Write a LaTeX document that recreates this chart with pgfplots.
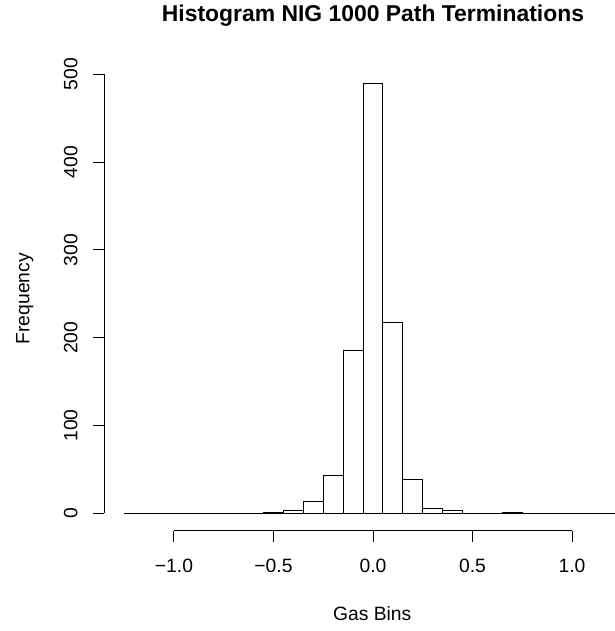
\documentclass[border=0pt]{standalone}
\usepackage{fontspec}
\setmainfont{Liberation Sans}
\usepackage{pgfplots}
\pgfplotsset{compat=1.18}
\begin{document}
\fontsize{19.3}{23}\selectfont
\begin{tikzpicture}[x=1pt,y=1pt]
\useasboundingbox (-104.3,-100.5) rectangle (509.7,530.5);
\begin{axis}[
  scale only axis, width=537.3pt, height=463.7pt,
  xmin=-1.35, xmax=1.35, ymin=-19.56, ymax=508.56,
  clip=false,
  axis lines=left, axis line style={draw=none},
  xtick={-1,-0.5,0,0.5,1},
  xticklabels={−1.0,−0.5,0.0,0.5,1.0},
  ytick={0,100,200,300,400,500},
  yticklabels={0,100,200,300,400,500},
  tick align=outside, major tick length=11.5pt,
  tick style={black, line width=0.9pt},
  xticklabel shift=30.7pt, yticklabel shift=15.5pt,
  xticklabel style={anchor=base, inner sep=0pt},
  yticklabel style={rotate=90, anchor=base, inner sep=0pt},
  title={Histogram NIG 1000 Path Terminations},
  title style={at={(axis description cs:0.5,1.0858)}, anchor=base,
    font=\bfseries\fontsize{22.9}{27}\selectfont},
  xlabel={Gas Bins},
  xlabel style={at={(axis description cs:0.4986,-0.1945)}, anchor=base},
  ylabel={Frequency},
  ylabel style={at={(axis description cs:-0.1396,0.5)}, anchor=base},
]
\addplot[ybar interval, fill=white, draw=black, line width=1pt] coordinates {
(-1.25,0) (-1.15,0) (-1.05,0) (-0.95,0) (-0.85,0) (-0.75,0) (-0.65,0)
(-0.55,1) (-0.45,3) (-0.35,13) (-0.25,43) (-0.15,186) (-0.05,489)
(0.05,217) (0.15,38) (0.25,6) (0.35,3) (0.45,0) (0.55,0) (0.65,1)
(0.75,0) (0.85,0) (0.95,0) (1.05,0) (1.15,0) (1.25,0)
};
\draw[black, line width=0.9pt] (axis cs:-1,-19.56) -- (axis cs:1,-19.56);
\draw[black, line width=0.9pt] (axis cs:-1.35,0) -- (axis cs:-1.35,500);
\end{axis}
\end{tikzpicture}
\end{document}
